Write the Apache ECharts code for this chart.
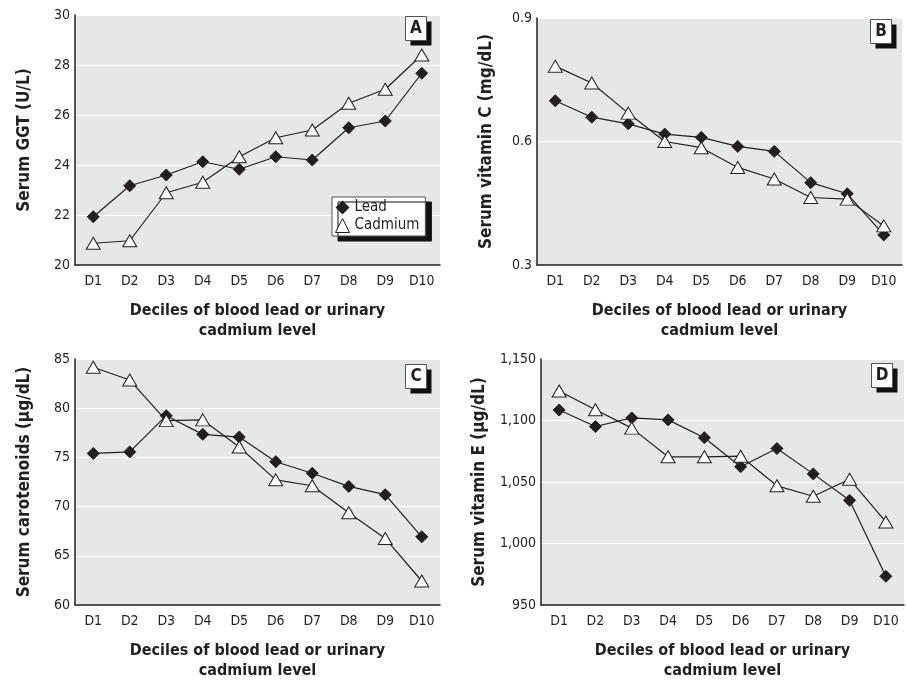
<!DOCTYPE html>
<html>
<head>
<meta charset="utf-8">
<script src="https://cdn.jsdelivr.net/npm/echarts@6/dist/echarts.min.js"></script>
<style>
html,body{margin:0;padding:0;background:#fff;}
#c{width:907px;height:682px;}
</style>
</head>
<body>
<div id="c"></div>
<script>
// ---- data ----
var categories = ['D1','D2','D3','D4','D5','D6','D7','D8','D9','D10'];

var ggtLead    = [21.93, 23.17, 23.6, 24.13, 23.83, 24.33, 24.2, 25.49, 25.76, 27.67];
var ggtCadmium = [20.87, 20.97, 22.89, 23.31, 24.33, 25.09, 25.4, 26.47, 27.03, 28.4];

var vitCLead    = [0.699, 0.659, 0.643, 0.618, 0.61, 0.588, 0.576, 0.50, 0.473, 0.373];
var vitCCadmium = [0.783, 0.742, 0.669, 0.60, 0.585, 0.537, 0.509, 0.464, 0.46, 0.395];

var carLead    = [75.4, 75.56, 79.24, 77.34, 77.07, 74.56, 73.39, 72.05, 71.21, 66.93];
var carCadmium = [84.16, 82.86, 78.74, 78.81, 76.06, 72.72, 72.12, 69.37, 66.76, 62.44];

var vitELead    = [1108.5, 1095.1, 1102.1, 1100.5, 1086, 1062.4, 1077.2, 1056.6, 1035.1, 973.3];
var vitECadmium = [1124, 1108.8, 1093.8, 1070.5, 1070.5, 1071, 1046.9, 1038.4, 1052.3, 1017.5];

var panelLetters = ['A','B','C','D'];
var yNames = ['Serum GGT (U/L)', 'Serum vitamin C (mg/dL)', 'Serum carotenoids (\u03bcg/dL)', 'Serum vitamin E (\u03bcg/dL)'];
var xName = 'Deciles of blood lead or urinary\ncadmium level';
var yRanges = [[20, 30, 2], [0.3, 0.9, 0.3], [60, 85, 5], [950, 1150, 50]];

// ---- chart ----
var FONT = "'Liberation Sans Narrow', 'DejaVu Sans Condensed', 'Liberation Sans', sans-serif";
var INK = '#231f20';
var grids = [
  {left: 75, top: 15, width: 365, height: 250},
  {left: 537, top: 18, width: 365, height: 247},
  {left: 75, top: 359, width: 365, height: 249},
  {left: 541, top: 359, width: 363, height: 249}
];
var nameGaps = [42, 42, 42, 53];
var letterPos = [[405, 16], [870, 19], [405, 364], [871, 363]];

var yFormatters = [
  function (v) { return String(Math.round(v)); },
  function (v) { return v.toFixed(1); },
  function (v) { return String(Math.round(v)); },
  function (v) { return Math.round(v).toLocaleString('en-US'); }
];

var seriesData = [[ggtLead, ggtCadmium], [vitCLead, vitCCadmium], [carLead, carCadmium], [vitELead, vitECadmium]];

var letterGraphics = panelLetters.map(function (l, i) {
  return {
    type: 'group', left: letterPos[i][0], top: letterPos[i][1], z: 100,
    children: [
      {type: 'rect', shape: {x: 5, y: 5, width: 21, height: 24}, style: {fill: '#111'}},
      {type: 'rect', shape: {x: 0, y: 0, width: 21, height: 24}, style: {fill: '#fff', stroke: '#555', lineWidth: 1}},
      {type: 'text', x: 10.5, y: 12.5, style: {text: l, fill: INK, font: 'bold 17px ' + FONT, align: 'center', verticalAlign: 'middle'}}
    ]
  };
});

var option = {
  animation: false,
  backgroundColor: '#fff',
  textStyle: {fontFamily: FONT},
  grid: grids.map(function (g) {
    return Object.assign({show: true, backgroundColor: '#e6e7e8', borderWidth: 0, containLabel: false}, g);
  }),
  graphic: letterGraphics,
  legend: {
    left: 332, top: 197, orient: 'vertical', itemGap: 3, itemWidth: 14, itemHeight: 14,
    padding: [3, 6, 3, 3],
    backgroundColor: '#fff', borderColor: '#555', borderWidth: 1,
    shadowColor: '#111', shadowOffsetX: 6, shadowOffsetY: 5, shadowBlur: 0,
    textStyle: {fontFamily: FONT, fontSize: 15, color: INK},
    data: [
      {name: 'Lead', icon: 'diamond', itemStyle: {color: INK, borderColor: INK}},
      {name: 'Cadmium', icon: 'triangle', itemStyle: {color: '#fff', borderColor: INK, borderWidth: 1}}
    ]
  },
  xAxis: grids.map(function (g, i) {
    return {
      type: 'category', gridIndex: i, data: categories, boundaryGap: true,
      name: xName, nameLocation: 'middle', nameGap: 36,
      nameTextStyle: {fontFamily: FONT, fontWeight: 'bold', fontSize: 16, color: INK, lineHeight: 20},
      axisLine: {lineStyle: {color: INK, width: 1.5}},
      axisTick: {alignWithLabel: true, length: 6, lineStyle: {color: INK, width: 1}},
      axisLabel: {fontFamily: FONT, fontSize: 14, color: INK, margin: 9},
      splitLine: {show: false}
    };
  }),
  yAxis: grids.map(function (g, i) {
    return {
      type: 'value', gridIndex: i, min: yRanges[i][0], max: yRanges[i][1], interval: yRanges[i][2],
      name: yNames[i], nameLocation: 'middle', nameGap: nameGaps[i], nameRotate: 90,
      nameTextStyle: {fontFamily: FONT, fontWeight: 'bold', fontSize: 17, color: INK},
      axisLine: {show: true, lineStyle: {color: INK, width: 1.5}},
      axisTick: {show: false},
      axisLabel: {fontFamily: FONT, fontSize: 14, color: INK, margin: 5, formatter: yFormatters[i]},
      splitLine: {show: true, lineStyle: {color: '#fff', width: 1.2}}
    };
  }),
  series: []
};

seriesData.forEach(function (pair, i) {
  option.series.push({
    name: 'Lead', type: 'line', xAxisIndex: i, yAxisIndex: i, data: pair[0],
    symbol: 'diamond', symbolSize: 12, z: 3,
    lineStyle: {color: INK, width: 1.2},
    itemStyle: {color: INK, borderColor: INK}
  });
  option.series.push({
    name: 'Cadmium', type: 'line', xAxisIndex: i, yAxisIndex: i, data: pair[1],
    symbol: 'triangle', symbolSize: [14, 12], z: 4,
    lineStyle: {color: INK, width: 1.2},
    itemStyle: {color: '#fff', borderColor: INK, borderWidth: 1}
  });
});

var chart = echarts.init(document.getElementById('c'), null, {renderer: 'canvas'});
chart.setOption(option);
</script>
</body>
</html>
